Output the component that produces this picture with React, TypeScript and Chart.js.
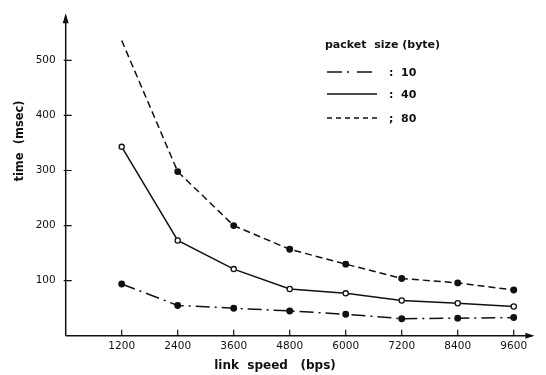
import React, { useEffect, useRef } from "react";
import { Chart, registerables } from "chart.js";

Chart.register(...registerables);

const speeds = [1200, 2400, 3600, 4800, 6000, 7200, 8400, 9600];
const size10 = [94, 55, 50, 45, 39, 31, 32, 33];
const size40 = [343, 173, 121, 85, 77, 64, 59, 53];
const size80 = [536, 298, 200, 157, 130, 104, 96, 83];
const yTicks = [100, 200, 300, 400, 500];
const legendTitle = "packet  size (byte)";
const legendLabels = [":  10", ":  40", ";  80"];
const xTitle = "link  speed   (bps)";
const yTitle = "time  (msec)";

const FONT = "'DejaVu Sans', sans-serif";
const INK = "#111";

const decor = {
  id: "decor",
  afterDraw(chart: any) {
    const ctx = chart.ctx;
    const xs = chart.scales.x;
    const ys = chart.scales.y;
    const x0 = xs.getPixelForValue(0);
    const y0 = ys.getPixelForValue(0);
    ctx.save();
    ctx.strokeStyle = INK;
    ctx.fillStyle = INK;
    ctx.lineWidth = 1.5;
    // axes
    ctx.beginPath();
    ctx.moveTo(x0, y0);
    ctx.lineTo(xs.right, y0);
    ctx.moveTo(x0, y0);
    ctx.lineTo(x0, ys.top);
    ctx.stroke();
    // arrowheads
    ctx.beginPath();
    ctx.moveTo(xs.right + 2, y0);
    ctx.lineTo(xs.right - 7, y0 - 3);
    ctx.lineTo(xs.right - 7, y0 + 3);
    ctx.closePath();
    ctx.fill();
    ctx.beginPath();
    ctx.moveTo(x0, ys.top - 3);
    ctx.lineTo(x0 - 3, ys.top + 7);
    ctx.lineTo(x0 + 3, ys.top + 7);
    ctx.closePath();
    ctx.fill();
    // inward ticks
    ctx.lineWidth = 1.2;
    ctx.beginPath();
    speeds.forEach((s) => {
      const px = xs.getPixelForValue(s);
      ctx.moveTo(px, y0);
      ctx.lineTo(px, y0 - 6);
    });
    yTicks.forEach((t) => {
      const py = ys.getPixelForValue(t);
      ctx.moveTo(x0 - 2, py);
      ctx.lineTo(x0 + 6, py);
    });
    ctx.stroke();
    // axis titles
    ctx.font = "bold 12px " + FONT;
    ctx.textAlign = "center";
    ctx.textBaseline = "middle";
    ctx.fillText(xTitle, 275, 366);
    ctx.save();
    ctx.translate(20, 141);
    ctx.rotate(-Math.PI / 2);
    ctx.font = "bold 11.5px " + FONT;
    ctx.fillText(yTitle, 0, 0);
    ctx.restore();
    // legend
    ctx.font = "bold 11px " + FONT;
    ctx.textAlign = "left";
    ctx.fillText(legendTitle, 325, 45);
    const rows = [72, 94, 118];
    const dashes = [[15, 5, 2, 8], [], [5, 4]];
    ctx.lineWidth = 1.4;
    rows.forEach((ry, i) => {
      ctx.setLineDash(dashes[i]);
      ctx.beginPath();
      ctx.moveTo(327, ry);
      ctx.lineTo(377, ry);
      ctx.stroke();
      ctx.setLineDash([]);
      ctx.fillText(legendLabels[i], 389, ry + 1);
    });
    ctx.restore();
  },
};

export default function App() {
  const ref = useRef<HTMLCanvasElement>(null);
  useEffect(() => {
    const mk = (vals: number[]) => speeds.map((s, i) => ({ x: s, y: vals[i] }));
    const chart = new Chart(ref.current!, {
      type: "line",
      data: {
        datasets: [
          {
            label: "10",
            data: mk(size10),
            borderColor: INK,
            borderWidth: 1.5,
            borderDash: [14, 5, 2, 5],
            pointRadius: 2.7,
            pointBackgroundColor: INK,
            pointBorderColor: INK,
            tension: 0,
          },
          {
            label: "40",
            data: mk(size40),
            borderColor: INK,
            borderWidth: 1.5,
            pointRadius: 2.6,
            pointBackgroundColor: "#fff",
            pointBorderColor: INK,
            pointBorderWidth: 1.3,
            tension: 0,
          },
          {
            label: "80",
            data: mk(size80),
            borderColor: INK,
            borderWidth: 1.5,
            borderDash: [7, 4],
            pointRadius: size80.map((_, i) => (i === 0 ? 0 : 2.7)),
            pointBackgroundColor: INK,
            pointBorderColor: INK,
            tension: 0,
          },
        ],
      },
      options: {
        animation: false,
        responsive: true,
        maintainAspectRatio: false,
        layout: { padding: { top: 12, right: 13.6, left: 0, bottom: 0 } },
        plugins: { legend: { display: false }, tooltip: { enabled: false } },
        scales: {
          x: {
            type: "linear",
            min: 0,
            max: 10000,
            grid: { display: false, drawTicks: false },
            border: { display: false },
            afterBuildTicks: (s: any) => {
              s.ticks = speeds.map((v) => ({ value: v }));
            },
            afterFit: (s: any) => {
              s.height = 39.25;
            },
            ticks: {
              padding: 4,
              color: INK,
              font: { family: FONT, size: 10.5 },
              maxRotation: 0,
              callback: (v: any) => String(v),
            },
          },
          y: {
            type: "linear",
            min: 0,
            max: 580,
            grid: { display: false, drawTicks: false },
            border: { display: false },
            afterBuildTicks: (s: any) => {
              s.ticks = yTicks.map((v) => ({ value: v }));
            },
            afterFit: (s: any) => {
              s.width = 65.7;
            },
            ticks: {
              padding: 10,
              color: INK,
              font: { family: FONT, size: 10.5 },
              callback: (v: any) => String(v),
            },
          },
        },
      },
      plugins: [decor],
    });
    return () => chart.destroy();
  }, []);
  return (
    <div style={{ position: "absolute", left: 0, top: 0, width: 546, height: 375, background: "#fff" }}>
      <canvas ref={ref} />
    </div>
  );
}
